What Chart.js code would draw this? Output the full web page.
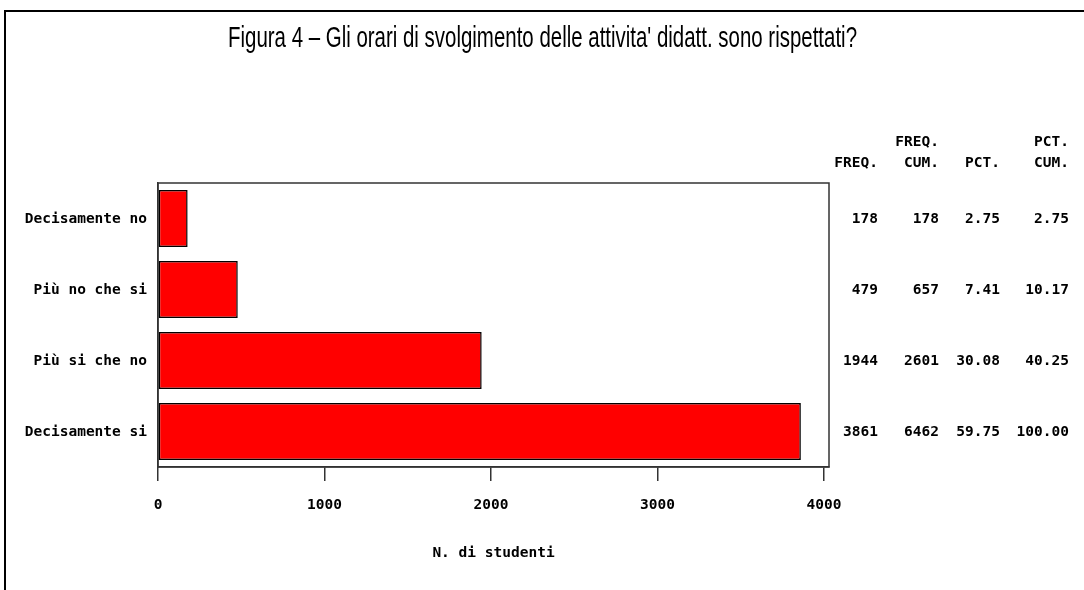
<!DOCTYPE html>
<html>
<head>
<meta charset="utf-8">
<script src="https://cdn.jsdelivr.net/npm/chart.js@4/dist/chart.umd.min.js"></script>
<style>
  html, body { margin: 0; padding: 0; background: #fff; }
  #wrap { width: 1084px; height: 590px; }
</style>
</head>
<body>
<div id="wrap"><canvas id="chart" width="1084" height="590"></canvas></div>
<script>
let categories = ['Decisamente no', 'Più no che si', 'Più si che no', 'Decisamente si'];
let freq = [178, 479, 1944, 3861];
let freqCum = ['178', '657', '2601', '6462'];
let pct = ['2.75', '7.41', '30.08', '59.75'];
let pctCum = ['2.75', '10.17', '40.25', '100.00'];
let xTicks = [0, 1000, 2000, 3000, 4000];
let title = "Figura 4 \u2013 Gli orari di svolgimento delle attivita' didatt. sono rispettati?";
let xTitle = 'N. di studenti';

let monoFont = { family: "'DejaVu Sans Mono', 'Liberation Mono', monospace", size: 14.5, weight: 'bold' };
let monoCss = "bold 14.5px 'DejaVu Sans Mono', 'Liberation Mono', monospace";

// table on the right, rows follow the category scale
let tableColumns = [
    { right: 878, head: ['', 'FREQ.'], values: freq.map(String) },
    { right: 939, head: ['FREQ.', 'CUM.'], values: freqCum },
    { right: 1000, head: ['', 'PCT.'], values: pct },
    { right: 1069, head: ['PCT.', 'CUM.'], values: pctCum }
];

const extras = {
    id: 'extras',
    beforeDraw(chart) {
        let ctx = chart.ctx;
        ctx.save();
        ctx.fillStyle = '#fff';
        ctx.fillRect(0, 0, chart.width, chart.height);
        // outer frame
        ctx.strokeStyle = '#000';
        ctx.lineWidth = 2;
        ctx.beginPath();
        ctx.moveTo(5, 590);
        ctx.lineTo(5, 11);
        ctx.lineTo(1084, 11);
        ctx.stroke();
        // title, squeezed to look like the narrow SAS font
        ctx.fillStyle = '#000';
        ctx.font = "29px 'Liberation Sans', Arial, sans-serif";
        ctx.textAlign = 'left';
        ctx.textBaseline = 'alphabetic';
        let w = ctx.measureText(title).width;
        let target = 629;
        ctx.translate(228, 47);
        ctx.scale(target / w, 1);
        ctx.fillText(title, 0, 0);
        ctx.restore();
    },
    afterDraw(chart) {
        let ctx = chart.ctx;
        let a = chart.chartArea;
        let y = chart.scales.y;
        ctx.save();
        ctx.strokeStyle = '#333';
        ctx.lineWidth = 1.5;
        ctx.strokeRect(a.left, a.top, a.right - a.left, a.bottom - a.top);
        ctx.fillStyle = '#000';
        ctx.font = monoCss;
        ctx.textAlign = 'right';
        ctx.textBaseline = 'middle';
        tableColumns.forEach(col => {
            ctx.fillText(col.head[0], col.right, 142);
            ctx.fillText(col.head[1], col.right, 163);
            col.values.forEach((v, i) => {
                ctx.fillText(v, col.right, y.getPixelForValue(i) + 1);
            });
        });
        ctx.restore();
    }
};

new Chart(document.getElementById('chart'), {
    type: 'bar',
    data: {
        labels: categories,
        datasets: [{
            data: freq,
            backgroundColor: '#ff0000',
            borderColor: '#000',
            borderWidth: 1.5,
            borderSkipped: false,
            barPercentage: 0.8,
            categoryPercentage: 1.0
        }]
    },
    options: {
        indexAxis: 'y',
        responsive: false,
        animation: false,
        layout: { padding: { top: 183, right: 255, bottom: 0, left: 0 } },
        plugins: {
            legend: { display: false },
            tooltip: { enabled: false }
        },
        scales: {
            x: {
                min: 0,
                max: 4030,
                afterBuildTicks: (scale) => { scale.ticks = xTicks.map(v => ({ value: v })); },
                afterFit: (scale) => { scale.height = 123; },
                grid: { drawOnChartArea: false, drawTicks: true, tickLength: 14, color: '#333', lineWidth: 1.5 },
                border: { display: true, color: '#333', width: 1.5 },
                ticks: { color: '#000', font: monoFont, padding: 16, maxRotation: 0, callback: (v) => String(v) },
                title: { display: true, text: xTitle, color: '#000', font: monoFont, padding: { top: 28, bottom: 28 } }
            },
            y: {
                afterFit: (scale) => { scale.width = 158; },
                grid: { display: false },
                border: { display: true, color: '#333', width: 1.5 },
                ticks: { color: '#000', font: monoFont, padding: 3, labelOffset: 1 }
            }
        }
    },
    plugins: [extras]
});
</script>
</body>
</html>
